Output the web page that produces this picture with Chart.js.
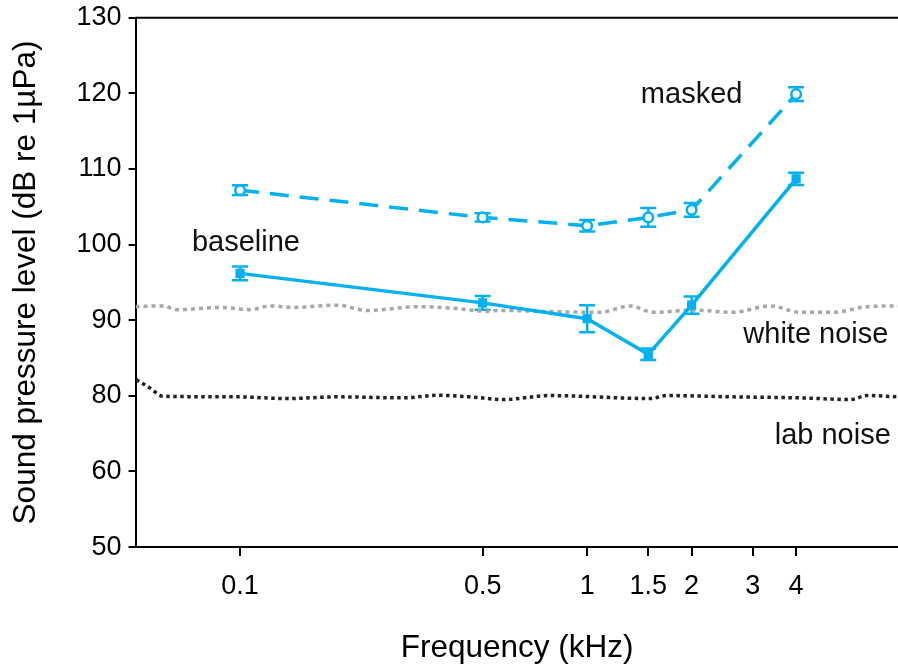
<!DOCTYPE html>
<html>
<head>
<meta charset="utf-8">
<script src="https://cdn.jsdelivr.net/npm/chart.js@4.4.0/dist/chart.umd.min.js"></script>
<style>
  html, body { margin: 0; padding: 0; background: #fff; overflow: hidden; }
  #wrap { width: 906px; height: 664px; }
</style>
</head>
<body>
<div id="wrap"><canvas id="chart"></canvas></div>
<script>
// frecuencias (kHz) y umbrales (dB re 1µPa)
const freqs = [0.1, 0.5, 1, 1.5, 2, 4];
const baseline = [96.2, 92.3, 90.2, 85.5, 92.0, 108.7];
const baselineErr = [0.9, 0.9, 1.8, 0.75, 1.15, 0.8];
const masked = [107.2, 103.6, 102.5, 103.6, 104.6, 119.9];
const maskedErr = [0.65, 0.55, 0.75, 1.25, 0.9, 0.9];

// espectros de ruido
const whiteFreq = [0.05, 0.06, 0.066, 0.088, 0.107, 0.122, 0.142, 0.19, 0.232, 0.33, 0.411, 0.515, 0.56, 0.78, 1.09, 1.33, 1.55, 2.02, 2.63, 3.37, 4.11, 5.12, 6.41, 7.9];
const whiteNoise = [91.8, 91.9, 91.4, 91.7, 91.4, 91.9, 91.7, 92.0, 91.3, 91.8, 91.6, 91.2, 91.3, 91.15, 91.05, 91.9, 91.05, 91.35, 91.05, 91.9, 91.05, 91.05, 91.8, 91.9];
const labFreq = [0.0502, 0.055, 0.06, 0.098, 0.137, 0.19, 0.295, 0.37, 0.46, 0.573, 0.782, 1.52, 1.70, 2.63, 4.11, 5.73, 6.41, 7.88];
const labNoise = [82.15, 81.05, 79.9, 79.74, 79.29, 79.74, 79.47, 80.08, 79.74, 79.03, 80.04, 79.29, 80.04, 79.74, 79.47, 79.03, 80.04, 79.74];

const xTicks = [0.1, 0.5, 1, 1.5, 2, 3, 4];
const yTickLabels = [50, 60, 80, 90, 100, 110, 120, 130];

const BLUE = '#00b0f0';

// eje Y con tramos iguales entre etiquetas (eje quebrado)
function toY(db) {
  for (let i = 0; i < yTickLabels.length - 1; i++) {
    const a = yTickLabels[i], b = yTickLabels[i + 1];
    if (db <= b || i === yTickLabels.length - 2) return i + (db - a) / (b - a);
  }
}

const pts = (xs, ys) => xs.map((x, i) => ({ x: x, y: toY(ys[i]) }));

const notes = [
  { text: 'masked', x: 2.0, y: 118.7 },
  { text: 'baseline', x: 0.104, y: 99.1 },
  { text: 'white noise', x: 4.56, y: 87.0 },
  { text: 'lab noise', x: 5.1, y: 67.2 }
];

const errorBars = {
  id: 'errorBars',
  beforeDatasetsDraw(chart) {
    const { ctx, scales: { x, y } } = chart;
    const sets = [[baseline, baselineErr], [masked, maskedErr]];
    ctx.save();
    ctx.strokeStyle = BLUE;
    ctx.lineWidth = 2.5;
    sets.forEach(([vals, errs]) => {
      vals.forEach((v, i) => {
        const px = x.getPixelForValue(freqs[i]);
        const top = y.getPixelForValue(toY(v + errs[i]));
        const bot = y.getPixelForValue(toY(v - errs[i]));
        ctx.beginPath();
        ctx.moveTo(px, top); ctx.lineTo(px, bot);
        ctx.moveTo(px - 8, top); ctx.lineTo(px + 8, top);
        ctx.moveTo(px - 8, bot); ctx.lineTo(px + 8, bot);
        ctx.stroke();
      });
    });
    ctx.restore();
  }
};

const extras = {
  id: 'extras',
  afterDraw(chart) {
    const { ctx, chartArea, scales: { x, y } } = chart;
    ctx.save();
    // linea superior del marco
    ctx.strokeStyle = '#000';
    ctx.lineWidth = 2;
    ctx.beginPath();
    ctx.moveTo(chartArea.left, chartArea.top);
    ctx.lineTo(chartArea.right, chartArea.top);
    ctx.stroke();
    // etiquetas de las series
    ctx.fillStyle = '#111';
    ctx.font = '29px "Liberation Sans", Arial, sans-serif';
    ctx.textAlign = 'center';
    ctx.textBaseline = 'alphabetic';
    notes.forEach(n => {
      ctx.fillText(n.text, x.getPixelForValue(n.x), y.getPixelForValue(toY(n.y)));
    });
    ctx.restore();
  }
};

new Chart(document.getElementById('chart'), {
  type: 'line',
  data: {
    datasets: [
      {
        label: 'baseline',
        data: pts(freqs, baseline),
        borderColor: BLUE,
        backgroundColor: BLUE,
        borderWidth: 3.5,
        pointStyle: 'rect',
        pointRadius: 6.5,
        pointBorderWidth: 0,
        tension: 0
      },
      {
        label: 'masked',
        data: pts(freqs, masked),
        borderColor: BLUE,
        backgroundColor: '#fff',
        borderWidth: 3.5,
        borderDash: [19, 11],
        pointStyle: 'circle',
        pointRadius: 4.8,
        pointBorderWidth: 2.5,
        pointBorderColor: BLUE,
        pointBackgroundColor: '#fff',
        tension: 0
      },
      {
        label: 'white noise',
        data: pts(whiteFreq, whiteNoise),
        borderColor: '#a6a6a6',
        borderWidth: 3.5,
        borderDash: [4, 4],
        pointRadius: 0,
        cubicInterpolationMode: 'monotone'
      },
      {
        label: 'lab noise',
        data: pts(labFreq, labNoise),
        borderColor: '#222',
        borderWidth: 3.5,
        borderDash: [3.5, 3.5],
        pointRadius: 0,
        cubicInterpolationMode: 'monotone'
      }
    ]
  },
  options: {
    responsive: true,
    maintainAspectRatio: false,
    animation: false,
    layout: { padding: { top: 17, left: 8, right: 0, bottom: 0 } },
    plugins: {
      legend: { display: false },
      tooltip: { enabled: false }
    },
    scales: {
      x: {
        type: 'logarithmic',
        min: 0.05,
        max: 7.9,
        bounds: 'data',
        afterBuildTicks: (axis) => { axis.ticks = xTicks.map(v => ({ value: v })); },
        grid: { drawOnChartArea: false, drawTicks: true, tickLength: 9, color: '#000', lineWidth: 2 },
        border: { display: true, color: '#000', width: 2 },
        ticks: {
          autoSkip: false,
          maxRotation: 0,
          padding: 14,
          color: '#000',
          font: { family: '"Liberation Sans Narrow", "Liberation Sans", Arial, sans-serif', size: 27 },
          callback: (v) => String(v)
        },
        title: {
          display: true,
          text: 'Frequency (kHz)',
          color: '#000',
          font: { family: '"Liberation Sans", Arial, sans-serif', size: 31.5, lineHeight: 1 },
          padding: { top: 16, bottom: 0 }
        }
      },
      y: {
        type: 'linear',
        min: 0,
        max: yTickLabels.length - 1,
        afterBuildTicks: (axis) => { axis.ticks = yTickLabels.map((_, i) => ({ value: i })); },
        grid: { drawOnChartArea: false, drawTicks: true, tickLength: 7, color: '#000', lineWidth: 2 },
        border: { display: true, color: '#000', width: 2 },
        ticks: {
          autoSkip: false,
          padding: 7,
          color: '#000',
          font: { family: '"Liberation Sans", Arial, sans-serif', size: 27, lineHeight: 0.8 },
          callback: (v) => yTickLabels[v]
        },
        title: {
          display: true,
          text: 'Sound pressure level (dB re 1µPa)',
          color: '#000',
          font: { family: '"Liberation Sans", Arial, sans-serif', size: 31.5, lineHeight: 1 },
          padding: { top: 3, bottom: 27 }
        }
      }
    }
  },
  plugins: [errorBars, extras]
});
</script>
</body>
</html>
